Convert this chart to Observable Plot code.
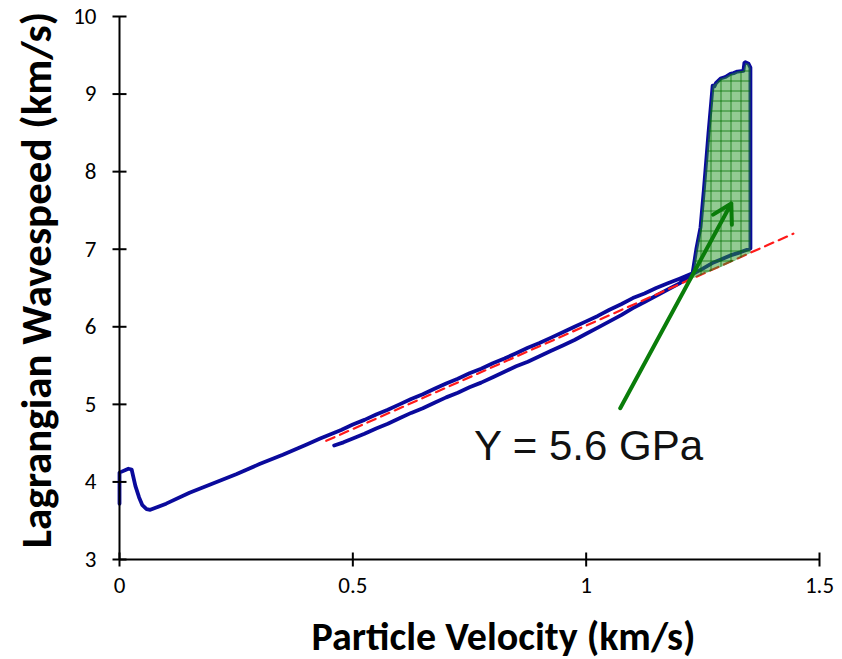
<!DOCTYPE html>
<html><head><meta charset="utf-8">
<script src="https://cdn.jsdelivr.net/npm/d3@7"></script>
<script src="https://cdn.jsdelivr.net/npm/@observablehq/plot@0.6"></script>
<style>body{margin:0;background:#fff;} svg{display:block;}</style>
</head><body><div id="chart"></div>
<script>
// ---- data ----
const curveX = [0, 0, 0.019, 0.026, 0.034, 0.042, 0.049, 0.058, 0.066, 0.10, 0.15, 0.20, 0.25, 0.30, 0.35, 0.40, 0.43,
  0.475, 0.50, 0.525, 0.55, 0.575, 0.60, 0.625, 0.65, 0.675, 0.70, 0.725, 0.75, 0.775, 0.80, 0.825, 0.85, 0.875, 0.90, 0.925, 0.95, 0.975, 1.00, 1.025, 1.05, 1.075, 1.10, 1.125, 1.15, 1.175, 1.20, 1.228,
  1.236, 1.245, 1.252, 1.262, 1.268, 1.271, 1.275, 1.278, 1.288, 1.298, 1.309, 1.316, 1.324, 1.337, 1.339, 1.341, 1.348, 1.352,
  1.352, 1.33, 1.309, 1.29, 1.273, 1.25, 1.228,
  1.20, 1.175, 1.15, 1.125, 1.10, 1.075, 1.05, 1.025, 1.00, 0.975, 0.95, 0.925, 0.90, 0.875, 0.85, 0.825, 0.80, 0.775, 0.75, 0.725, 0.70, 0.675, 0.65, 0.625, 0.60, 0.575, 0.55, 0.525, 0.50, 0.48, 0.46];
const curveY = [3.72, 4.12, 4.17, 4.16, 3.95, 3.80, 3.70, 3.65, 3.64, 3.72, 3.86, 3.98, 4.10, 4.23, 4.35, 4.48, 4.56,
  4.67, 4.74, 4.80, 4.87, 4.93, 5.00, 5.07, 5.13, 5.20, 5.27, 5.33, 5.40, 5.46, 5.53, 5.59, 5.66, 5.73, 5.79, 5.86, 5.93, 6.00, 6.07, 6.14, 6.22, 6.29, 6.37, 6.43, 6.50, 6.56, 6.62, 6.69,
  7.00, 7.28, 7.75, 8.49, 8.90, 9.11, 9.10, 9.14, 9.20, 9.22, 9.26, 9.27, 9.29, 9.30, 9.40, 9.41, 9.39, 9.34,
  7.01, 6.96, 6.92, 6.87, 6.83, 6.75, 6.68,
  6.56, 6.48, 6.40, 6.32, 6.24, 6.15, 6.07, 5.99, 5.91, 5.83, 5.76, 5.69, 5.62, 5.55, 5.49, 5.42, 5.35, 5.28, 5.22, 5.15, 5.09, 5.02, 4.95, 4.89, 4.82, 4.75, 4.69, 4.62, 4.56, 4.51, 4.47];

const fitX = [0.443, 1.444];
const fitY = [4.53, 7.20];

const yieldX = [1.226, 1.236, 1.245, 1.252, 1.262, 1.268, 1.271, 1.278, 1.288, 1.298, 1.309, 1.324, 1.337, 1.341, 1.348, 1.352, 1.352, 1.30, 1.26];
const yieldY = [6.62, 7.00, 7.28, 7.75, 8.49, 8.90, 9.11, 9.14, 9.20, 9.22, 9.26, 9.29, 9.30, 9.40, 9.39, 9.34, 6.95, 6.80, 6.70];

const arrowX1 = [1.073], arrowY1 = [4.95], arrowX2 = [1.311], arrowY2 = [7.59];
const annotationText = ["Y = 5.6 GPa"];
const annotationX = [1.005], annotationY = [4.45];

const xTicks = [0, 0.5, 1, 1.5];
const yTicks = [3, 4, 5, 6, 7, 8, 9, 10];
const xTitle = "Particle Velocity (km/s)";
const yTitle = "Lagrangian Wavespeed (km/s)";

// ---- tables ----
const curve = curveX.map((x, i) => ({x, y: curveY[i]}));
const fit = fitX.map((x, i) => ({x, y: fitY[i]}));
const yieldPoly = yieldX.map((x, i) => ({x, y: yieldY[i]}));
const arrows = arrowX1.map((x, i) => ({x1: x, y1: arrowY1[i], x2: arrowX2[i], y2: arrowY2[i]}));
const notes = annotationText.map((t, i) => ({t, x: annotationX[i], y: annotationY[i]}));

const vTick = {draw(ctx, size) { const r = Math.sqrt(size / Math.PI); ctx.moveTo(0, -r); ctx.lineTo(0, r); }};
const hTick = {draw(ctx, size) { const r = Math.sqrt(size / Math.PI); ctx.moveTo(-r, 0); ctx.lineTo(r, 0); }};

const labelFont = "Carlito, 'Open Sans', sans-serif";

const svg = Plot.plot({
  width: 842, height: 659,
  marginLeft: 119, marginRight: 23, marginTop: 16, marginBottom: 100,
  style: {background: "#fff", fontFamily: labelFont, color: "#000"},
  x: {domain: [0, 1.5], axis: null},
  y: {domain: [3, 10], axis: null},
  marks: [
    Plot.text(xTicks, {x: d => d, frameAnchor: "bottom", dy: 33, text: d => String(d), fontSize: 23, fill: "#000"}),
    Plot.text(yTicks, {y: d => d, frameAnchor: "left", dx: -23, textAnchor: "end", text: d => String(d), fontSize: 23, fill: "#000"}),
    Plot.line(curve, {x: "x", y: "y", stroke: "#0a0a9c", strokeWidth: 3.8, curve: "linear"}),
    Plot.line(fit, {x: "x", y: "y", stroke: "#ff1a1a", strokeWidth: 2.2, strokeDasharray: "9,6"}),
    Plot.line(yieldPoly, {x: "x", y: "y", fill: "url(#greengrid)", stroke: "none"}),
    Plot.ruleX([xTicks[0]], {stroke: "#000", strokeWidth: 2}),
    Plot.ruleY([yTicks[0]], {stroke: "#000", strokeWidth: 2}),
    Plot.dot(xTicks, {x: d => d, frameAnchor: "bottom", symbol: vTick, r: 7, stroke: "#000", strokeWidth: 2}),
    Plot.dot(yTicks, {y: d => d, frameAnchor: "left", symbol: hTick, r: 7, stroke: "#000", strokeWidth: 2}),
    Plot.arrow(arrows, {x1: "x1", y1: "y1", x2: "x2", y2: "y2", stroke: "#0a7d0a", strokeWidth: 4, headLength: 8, headAngle: 60}),
    Plot.text(notes, {x: "x", y: "y", text: "t", fontSize: 42, fontFamily: "'Liberation Sans', Arial, sans-serif", fill: "#111"}),
    Plot.text([xTitle], {frameAnchor: "bottom", text: d => d, dy: 90, dx: 34, fontSize: 40, fontWeight: "bold", fill: "#000", textAnchor: "middle"}),
    Plot.text([yTitle], {frameAnchor: "left", text: d => d, dx: -82, dy: -8, rotate: -90, fontSize: 43, fontWeight: "bold", fill: "#000", textAnchor: "middle"})
  ]
});

const defs = d3.select(svg).insert("defs", ":first-child");
const pat = defs.append("pattern").attr("id", "greengrid").attr("patternUnits", "userSpaceOnUse").attr("width", 10).attr("height", 10);
pat.append("rect").attr("width", 10).attr("height", 10).attr("fill", "rgba(40,150,40,0.5)");
pat.append("path").attr("d", "M0 0.5H10M0.5 0V10").attr("stroke", "rgba(0,110,0,0.75)").attr("stroke-width", 1).attr("fill", "none");

document.getElementById("chart").appendChild(svg);
</script>
</body></html>
